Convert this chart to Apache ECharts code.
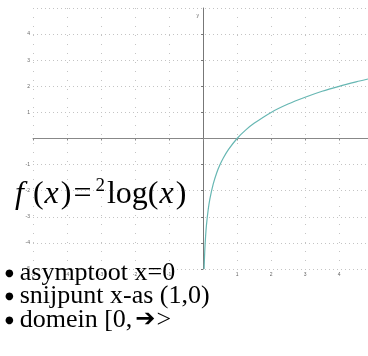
<!DOCTYPE html>
<html><head><meta charset="utf-8">
<script src="https://cdn.jsdelivr.net/npm/echarts@6/dist/echarts.min.js"></script>
<style>html,body{margin:0;padding:0;background:#fff}#c{width:368px;height:356px}</style>
</head><body><div id="c"></div>
<script>
// values: y = ²log(x)
const curveX = [0.031, 0.05, 0.075, 0.1, 0.15, 0.2, 0.3, 0.4, 0.5, 0.6, 0.75, 1, 1.25, 1.5, 2, 2.5, 3, 3.5, 4, 4.5, 4.85];
const curveY = [-5.0, -4.32, -3.74, -3.32, -2.74, -2.32, -1.74, -1.32, -1, -0.74, -0.42, 0, 0.32, 0.58, 1, 1.32, 1.58, 1.81, 2, 2.17, 2.28];
const xRange = [-5, 4.85];
const yRange = [-5, 5];
const bulletLines = ['asymptoot x=0', 'snijpunt x-as (1,0)', 'domein [0,'];

const chart = echarts.init(document.getElementById('c'), null, {renderer: 'canvas'});
const serif = '"Liberation Serif","DejaVu Serif",serif';
const tickFont = {fontSize: 5, color: '#666', fontFamily: 'Arial'};
const option = {
  animation: false,
  grid: {left: 33, right: 0, top: 8, bottom: 87, containLabel: false},
  xAxis: {
    type: 'value', min: xRange[0], max: xRange[1], interval: 1,
    axisLine: {onZero: true, lineStyle: {color: '#888', width: 1}},
    axisTick: {show: true, length: 2, inside: false, lineStyle: {color: '#888'}},
    axisLabel: Object.assign({margin: 3, showMaxLabel: false,
      formatter: v => (v === 0 || Math.abs(v - Math.round(v)) > 1e-6) ? '' : String(v)}, tickFont),
    splitLine: {show: true, lineStyle: {color: '#c4c4c4', type: [1, 8], width: 1}}
  },
  yAxis: {
    type: 'value', min: yRange[0], max: yRange[1], interval: 1,
    name: 'y', nameLocation: 'end', nameGap: -10,
    nameTextStyle: {fontSize: 5, color: '#666', align: 'right', padding: [0, 4, 0, 0]},
    axisLine: {onZero: true, lineStyle: {color: '#777', width: 1}},
    axisTick: {show: true, length: 2, lineStyle: {color: '#777'}},
    axisLabel: Object.assign({margin: 3, showMaxLabel: false,
      formatter: v => v === 0 ? '' : String(v)}, tickFont),
    splitLine: {show: true, lineStyle: {color: '#c4c4c4', type: [1, 3], width: 1}}
  },
  series: [{
    type: 'line', smooth: 0.3, symbol: 'none', clip: true,
    lineStyle: {color: '#67b7b3', width: 1.2},
    data: curveX.map((x, i) => [x, curveY[i]])
  }],
  graphic: [
    {
      type: 'text', left: 15, top: 177, z: 100,
      style: {
        text: '{f|f}{n|(}{i|x}{n|)}{e|=}{s|2}{n|log(}{i|x}{n|)}',
        rich: {
          f: {fontFamily: serif, fontStyle: 'italic', fontSize: 32, fill: '#000', lineHeight: 36, padding: [0, 9, 0, 0]},
          i: {fontFamily: serif, fontStyle: 'italic', fontSize: 32, fill: '#000', lineHeight: 36, padding: [0, 2, 0, 1]},
          n: {fontFamily: serif, fontSize: 32, fill: '#000', lineHeight: 36},
          e: {fontFamily: serif, fontSize: 32, fill: '#000', lineHeight: 36, padding: [0, 2, 0, 2]},
          s: {fontFamily: serif, fontSize: 19, fill: '#000', lineHeight: 36, verticalAlign: 'top', padding: [0, 2, 0, 2]}
        }
      }
    }
  ].concat(bulletLines.map((t, k) => ({
    type: 'text', left: 5, top: 260 + k * 23.5, z: 100,
    style: {
      text: '{b|\u25CF}{t|' + t + '}' + (k === 2 ? '{a|\u2794}{t|>}' : ''),
      rich: {
        b: {fontFamily: '"DejaVu Sans",sans-serif', fontSize: 10, fill: '#000', padding: [0, 6, 0, 0], verticalAlign: 'middle'},
        t: {fontFamily: serif, fontSize: 26, fill: '#000'},
        a: {fontFamily: '"DejaVu Sans",sans-serif', fontSize: 24, fill: '#000', padding: [0, 1, 0, 3]}
      }
    }
  })))
};
chart.setOption(option);
</script></body></html>
